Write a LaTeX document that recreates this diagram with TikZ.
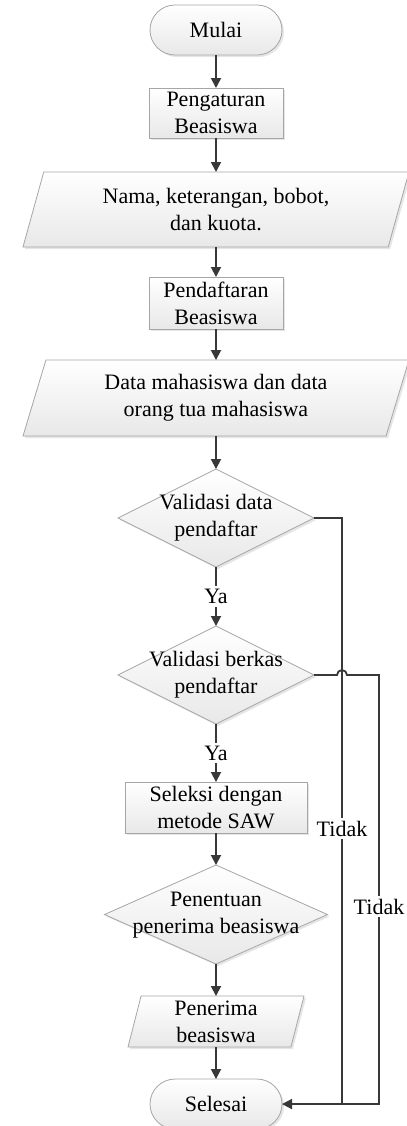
\documentclass[tikz,border=0pt]{standalone}
\usepackage{fontspec}
\setmainfont{Liberation Serif}
\usetikzlibrary{arrows.meta,positioning,shapes.geometric,shapes.misc,shadows,calc}

\newcommand{\pusat}[1]{\makebox[0pt]{\begin{tabular}{@{}c@{}}#1\end{tabular}}}

\begin{document}
\begin{tikzpicture}[font=\fontsize{11}{13.5}\selectfont]
            \tikzstyle{base} = [draw=gray!70, line width=0.4pt, top color=white, bottom color=gray!18, drop shadow={shadow xshift=1pt, shadow yshift=-1pt, fill=gray!40}, inner sep=0pt, outer sep=0pt]
            \tikzstyle{terminal} = [base, rounded rectangle, minimum width=66pt, minimum height=25pt]
            \tikzstyle{block} = [base, rectangle, align=center, minimum width=67pt, minimum height=25pt]
            \tikzstyle{io} = [base, trapezium, align=center, trapezium left angle=64, trapezium right angle=116, trapezium stretches body]
            \tikzstyle{decision} = [base, diamond, minimum width=98pt, minimum height=49pt]
            \tikzstyle{arrow} = [draw=black!78, line width=0.9pt, -{Triangle[length=5pt,width=5pt]}]
            \tikzstyle{label} = [fill=white, inner sep=1.5pt]
            \useasboundingbox (-108pt,15pt) rectangle (95.5pt,-548pt);

            \node [terminal] (mulai) at (0,0) {Mulai};
            \node [block, below=16.5pt of mulai] (pengaturan) {Pengaturan\\Beasiswa};
            \node [io, below=17pt of pengaturan, minimum width=193pt, minimum height=37.5pt] (inputatur) {Nama, keterangan, bobot,\\dan kuota.};
            \node [block, below=15pt of inputatur, minimum height=26pt] (pendaftaran) {Pendaftaran\\Beasiswa};
            \node [io, below=15.5pt of pendaftaran, minimum width=193pt, minimum height=38pt] (inputdaftar) {Data mahasiswa dan data\\orang tua mahasiswa};
            \node [decision, below=16.5pt of inputdaftar] (valdata) {\pusat{Validasi data\\pendaftar}};
            \node [decision, below=29.5pt of valdata] (valberkas) {\pusat{Validasi berkas\\pendaftar}};
            \node [block, below=29pt of valberkas, minimum width=91pt, minimum height=25.5pt] (seleksi) {Seleksi dengan\\metode SAW};
            \node [decision, below=16pt of seleksi, minimum width=111.5pt, minimum height=49.5pt] (penentuan) {\pusat{Penentuan\\penerima beasiswa}};
            \node [io, below=16pt of penentuan, trapezium left angle=72.6, trapezium right angle=107.4, minimum width=88pt, minimum height=25.5pt] (penerima) {Penerima\\beasiswa};
            \node [terminal, below=16pt of penerima] (selesai) {Selesai};
            \coordinate (jalur1) at (63pt,0);
            \coordinate (jalur2) at (81.5pt,0);

            \draw [arrow] (mulai) -- (pengaturan);
            \draw [arrow] (pengaturan) -- (inputatur);
            \draw [arrow] (inputatur) -- (pendaftaran);
            \draw [arrow] (pendaftaran) -- (inputdaftar);
            \draw [arrow] (inputdaftar) -- (valdata);
            \draw [arrow] (valdata) -- node[label] {Ya} (valberkas);
            \draw [arrow] (valberkas) -- node[label] {Ya} (seleksi);
            \draw [arrow] (seleksi) -- (penentuan);
            \draw [arrow] (penentuan) -- (penerima);
            \draw [arrow] (penerima) -- (selesai);
            \draw [arrow] (valdata.east) -| node[label, pos=0.765] {Tidak} (jalur1 |- selesai.east) -- (selesai.east);
            \draw [arrow, -] (valberkas.east) -- ($(jalur1 |- valberkas.east)+(-2.5pt,0)$) arc[start angle=180, end angle=0, radius=2.5pt] -| node[label, pos=0.77] {Tidak} (jalur2 |- selesai.east) -- (jalur1 |- selesai.east);
\end{tikzpicture}
\end{document}
